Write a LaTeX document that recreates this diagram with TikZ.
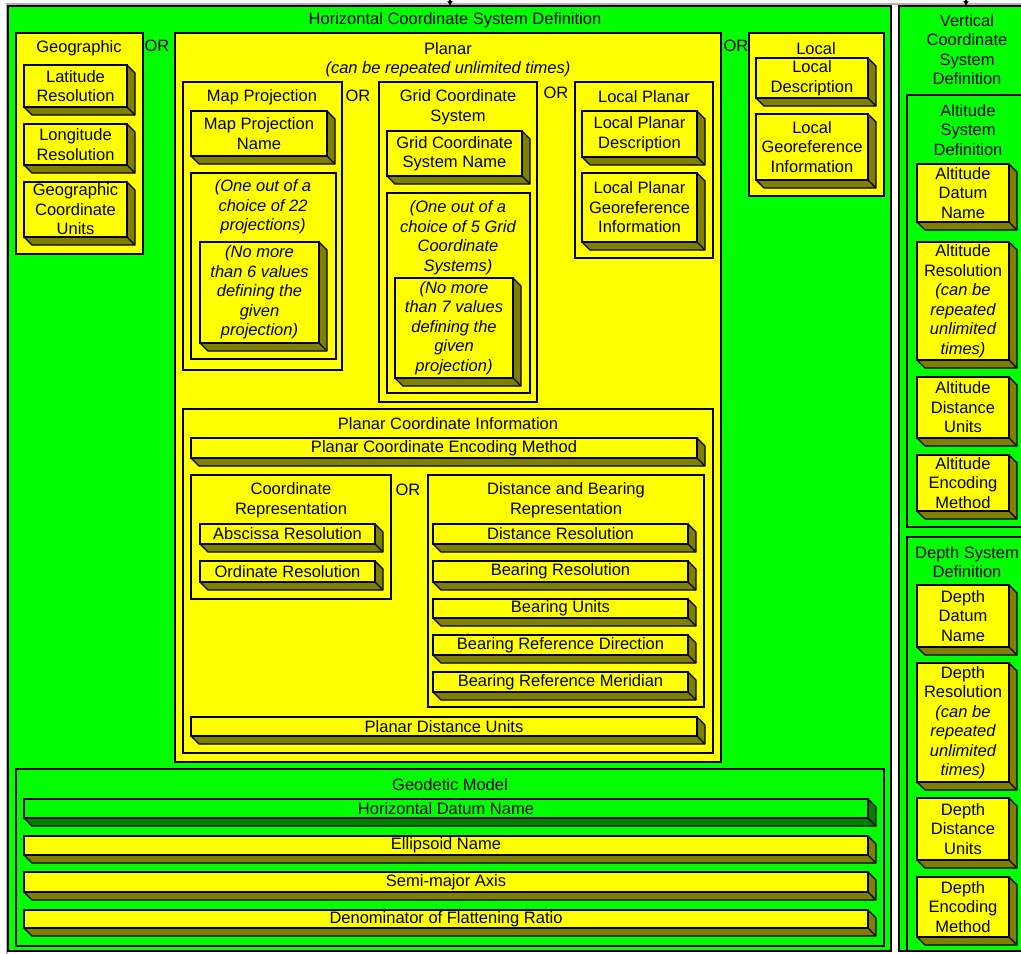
\documentclass[tikz,border=0pt]{standalone}
\usepackage{fontspec}
\setmainfont{Liberation Sans}
\usetikzlibrary{arrows.meta}
\definecolor{hcsgreen}{RGB}{0,255,0}
\definecolor{hcsyellow}{RGB}{255,255,0}
\tikzset{
    frameline/.style = {draw=black!30, line width=1.5pt},
    panel/.style = {rectangle, draw=black, line width=1.2pt, inner sep=0pt},
    slabface/.style = {rectangle, draw=black, line width=1.2pt, inner sep=0pt, align=center},
    slabside/.style = {draw=black, line width=1.2pt, line join=round},
    title/.style = {align=center, inner sep=0pt},
    orlbl/.style = {inner sep=0pt},
    stub/.style = {-{Latex[length=5pt,width=6pt]}, line width=1.2pt}
}
\newcommand{\slabdepth}{8}
% 3-d field box: [colour]{name}{x0}{y0}{x1}{y1}{text}
\newcommand{\slab}[7][hcsyellow]{%
  \filldraw[slabside, fill=#1!50!black] (#3,#6) -- ++(\slabdepth,\slabdepth) -- (#5+\slabdepth,#6+\slabdepth) -- (#5+\slabdepth,#4+\slabdepth) -- (#5,#4) -- (#5,#6) -- cycle;
  \draw[slabside] (#5,#6) -- ++(\slabdepth,\slabdepth);
  \node[slabface, fill=#1, minimum width={(#5-#3)*1pt}, minimum height={(#6-#4)*1pt}] at ({(#3+#5)/2},{(#4+#6)/2}) (#2) {#7};
}
% plain container: {name}{colour}{x0}{y0}{x1}{y1}
\newcommand{\panelbox}[6]{%
  \node[panel, fill=#2, minimum width={(#5-#3)*1pt}, minimum height={(#6-#4)*1pt}] at ({(#3+#5)/2},{(#4+#6)/2}) (#1) {};
}

\begin{document}
\begin{tikzpicture}[x=1pt, y=-1pt, font=\fontsize{16.5}{19.5}\selectfont]
\useasboundingbox (0,0) rectangle (1021,954);
\clip (0,0) rectangle (1021,954);
\fill[white] (0,0) rectangle (1021,954);
\draw[frameline] (7,960) -- (7,4) -- (1030,4);
%
% horizontal system
\panelbox{hcs}{hcsgreen}{8}{6}{891}{951}
\node[title] at (455,20) (hcsT) {Horizontal Coordinate System Definition};
\coordinate (hcsfeed) at (450,-4);
\coordinate (hcsin) at (450,6);
\draw[stub] (hcsfeed) -- (hcsin);
%
\panelbox{geo}{hcsyellow}{16}{33}{143}{254}
\node[title] at (79,48) (geoT) {Geographic};
\slab{lat}{24}{65}{127}{107}{Latitude\\Resolution}
\slab{lon}{24}{124}{127}{165}{Longitude\\Resolution}
\slab{geounits}{24}{182}{127}{237}{Geographic\\Coordinate\\Units}
\node[orlbl] at (157,46) (or1) {OR};
%
\panelbox{planar}{hcsyellow}{175}{33}{721}{762}
\node[title] at (448,59.5) (planarT) {Planar\\\itshape (can be repeated unlimited times)};
%
\panelbox{mapproj}{hcsyellow}{183}{82}{342}{370}
\node[title] at (262,97) (mapprojT) {Map Projection};
\slab{mpname}{191}{111}{327}{156}{Map Projection\\Name}
\panelbox{mpchoice}{hcsyellow}{191}{173}{336}{359}
\node[title] at (263,207) (mpchoiceT) {\itshape (One out of a\\\itshape choice of 22\\\itshape projections)};
\slab{mpvalues}{200}{242}{319}{343}{\itshape (No more\\\itshape than 6 values\\\itshape defining the\\\itshape given\\\itshape projection)}
\node[orlbl] at (358,96) (or2) {OR};
%
\panelbox{grid}{hcsyellow}{379}{82}{537}{402}
\node[title] at (458,107) (gridT) {Grid Coordinate\\System};
\slab{gridname}{387}{131}{522}{176}{Grid Coordinate\\System Name}
\panelbox{gridchoice}{hcsyellow}{387}{193}{530}{393}
\node[title] at (458,237.5) (gridchoiceT) {\itshape (One out of a\\\itshape choice of 5 Grid\\\itshape Coordinate\\\itshape Systems)};
\slab{gridvalues}{395}{278}{513}{378}{\itshape (No more\\\itshape than 7 values\\\itshape defining the\\\itshape given\\\itshape projection)}
\node[orlbl] at (556,93) (or3) {OR};
%
\panelbox{locplanar}{hcsyellow}{575}{82}{713}{258}
\node[title] at (644,97) (locplanarT) {Local Planar};
\slab{lpdesc}{582}{111}{697}{157}{Local Planar\\Description}
\slab{lpgeoref}{582}{173}{697}{242}{Local Planar\\Georeference\\Information}
%
\panelbox{pci}{hcsyellow}{183}{409}{713}{753}
\node[title] at (448,424) (pciT) {Planar Coordinate Information};
\slab{pcencode}{191}{438}{697}{458}{Planar Coordinate Encoding Method}
\panelbox{coordrep}{hcsyellow}{191}{475}{391}{599}
\node[title] at (291,500) (coordrepT) {Coordinate\\Representation};
\slab{absres}{200}{524}{375}{544}{Abscissa Resolution}
\slab{ordres}{200}{561}{375}{582}{Ordinate Resolution}
\node[orlbl] at (408,490) (or4) {OR};
\panelbox{dbrep}{hcsyellow}{428}{475}{704}{707}
\node[title] at (566,500) (dbrepT) {Distance and Bearing\\Representation};
\slab{distres}{433}{524}{688}{544}{Distance Resolution}
\slab{bearres}{433}{561}{688}{582}{Bearing Resolution}
\slab{bearunits}{433}{599}{688}{618}{Bearing Units}
\slab{bearrefdir}{433}{635}{688}{655}{Bearing Reference Direction}
\slab{bearrefmer}{433}{672}{688}{692}{Bearing Reference Meridian}
\slab{pdunits}{191}{717}{697}{736}{Planar Distance Units}
\node[orlbl] at (736,46) (or5) {OR};
%
\panelbox{local}{hcsyellow}{749}{33}{884}{196}
\node[title] at (816,49) (localT) {Local};
\slab{locdesc}{756}{58}{868}{98}{Local\\Description}
\slab{locgeoref}{756}{114}{868}{180}{Local\\Georeference\\Information}
%
\panelbox{geodetic}{hcsgreen}{16}{769}{884}{946}
\node[title] at (450,785) (geodeticT) {Geodetic Model};
\slab[hcsgreen]{hdatum}{24}{799}{868}{818}{Horizontal Datum Name}
\slab{ellipsoid}{24}{836}{868}{855}{Ellipsoid Name}
\slab{semimajor}{24}{872}{868}{892}{Semi-major Axis}
\slab{flattening}{24}{910}{868}{928}{Denominator of Flattening Ratio}
%
% vertical system
\panelbox{vcs}{hcsgreen}{899}{6}{1040}{951}
\node[title] at (967,49.5) (vcsT) {Vertical\\Coordinate\\System\\Definition};
\coordinate (vcsfeed) at (966,-4);
\coordinate (vcsin) at (966,6);
\draw[stub] (vcsfeed) -- (vcsin);
%
\panelbox{alt}{hcsgreen}{907}{95}{1040}{527}
\node[title] at (968,130) (altT) {Altitude\\System\\Definition};
\slab{altdatum}{917}{164}{1009}{222}{Altitude\\Datum\\Name}
\slab{altres}{917}{242}{1009}{360}{Altitude\\Resolution\\\itshape (can be\\\itshape repeated\\\itshape unlimited\\\itshape times)}
\slab{altunits}{917}{377}{1009}{438}{Altitude\\Distance\\Units}
\slab{altencode}{917}{455}{1009}{511}{Altitude\\Encoding\\Method}
%
\panelbox{depth}{hcsgreen}{907}{537}{1040}{951}
\node[title] at (967,562) (depthT) {Depth System\\Definition};
\slab{depdatum}{917}{585}{1009}{647}{Depth\\Datum\\Name}
\slab{depres}{917}{663}{1009}{782}{Depth\\Resolution\\\itshape (can be\\\itshape repeated\\\itshape unlimited\\\itshape times)}
\slab{depunits}{917}{798}{1009}{860}{Depth\\Distance\\Units}
\slab{depencode}{917}{877}{1009}{937}{Depth\\Encoding\\Method}
\end{tikzpicture}
\end{document}
